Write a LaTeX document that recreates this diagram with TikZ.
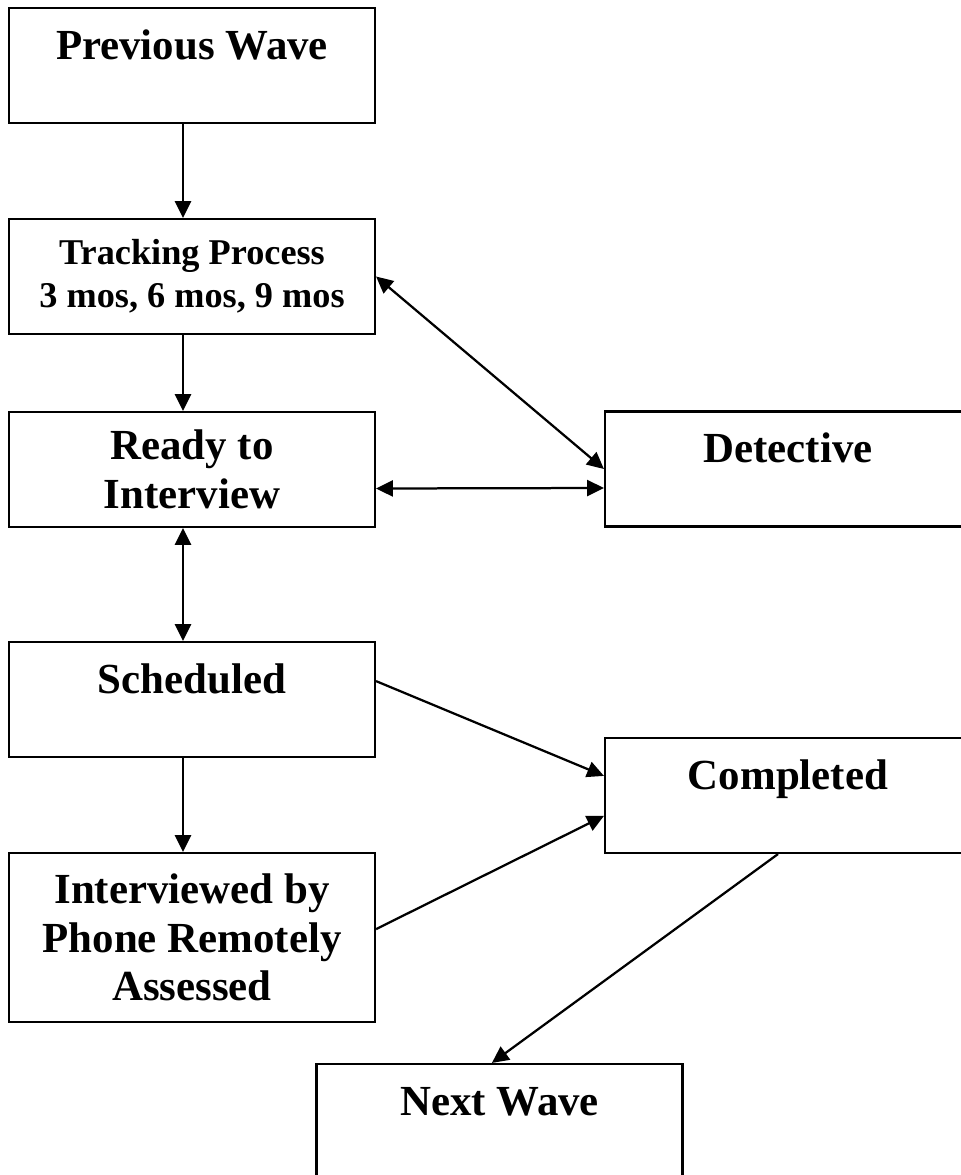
\documentclass[tikz,border=0pt]{standalone}
\usepackage{fontspec}
\setmainfont{Liberation Serif}
\usetikzlibrary{arrows.meta}
\tikzset{
	stagebox/.style={draw, line width=1.5pt, inner sep=0pt, minimum width=9.15cm, minimum height=2.875cm, align=center, font=\bfseries\fontsize{30.5}{34.5}\selectfont},
	oneline/.style={text height=1.275cm, text depth=1.6cm},
	link/.style={line width=1.6pt, -{Triangle[length=0.42cm, width=0.4cm]}},
	twolink/.style={line width=1.6pt, {Triangle[length=0.42cm, width=0.4cm]}-{Triangle[length=0.42cm, width=0.4cm]}}
}
\begin{document}
\begin{tikzpicture}
				\path [use as bounding box, clip] (0, 0) rectangle (24.025, -29.375);

				\node (Prev) [stagebox, oneline] at (4.8, -1.6375) {Previous Wave};

				\node (Track) [stagebox, font=\bfseries\fontsize{25.8}{30.6}\selectfont] at (4.8, -6.9125) {Tracking Process\\3 mos, 6 mos, 9 mos};
				\draw [link] ([xshift=-0.225cm]Prev.south) -- ([xshift=-0.225cm]Track.north);

				\node (Ready) [stagebox] at (4.8, -11.7375) {Ready to\\Interview};
				\draw [link] ([xshift=-0.225cm]Track.south) -- ([xshift=-0.225cm]Ready.north);

				\node (Detect) [stagebox, oneline] at (19.7, -11.725) {Detective};
				\draw [twolink] (Track.east) -- (Detect.west);
				\draw [twolink] ([yshift=-0.475cm]Ready.east) -- ([yshift=-0.475cm]Detect.west);

				\node (Sched) [stagebox, oneline] at (4.8, -17.4875) {Scheduled};
				\draw [twolink] ([xshift=-0.225cm]Ready.south) -- ([xshift=-0.225cm]Sched.north);

				\node (Interv) [stagebox, minimum height=4.225cm] at (4.8, -23.4375) {Interviewed by\\Phone Remotely\\Assessed};
				\draw [link] ([xshift=-0.225cm]Sched.south) -- ([xshift=-0.225cm]Interv.north);

				\node (Compl) [stagebox, oneline] at (19.7, -19.8875) {Completed};
				\draw [link] ([yshift=0.46cm]Sched.east) -- ([yshift=0.49cm]Compl.west);
				\draw [link] ([yshift=0.21cm]Interv.east) -- ([yshift=-0.51cm]Compl.west);

				\node (Next) [stagebox, oneline] at (12.4875, -28.0375) {Next Wave};
				\draw [link] ([xshift=-0.25cm]Compl.south) -- ([xshift=-0.19cm]Next.north);
			\end{tikzpicture}
\end{document}
